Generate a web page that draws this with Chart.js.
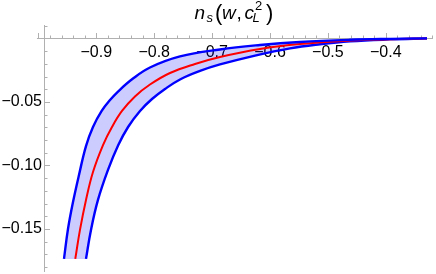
<!DOCTYPE html>
<html>
<head>
<meta charset="utf-8">
<script src="https://cdn.jsdelivr.net/npm/chart.js@4.4.1/dist/chart.umd.min.js"></script>
<style>
  html, body { margin: 0; padding: 0; background: #fff; }
  #wrap { width: 436px; height: 274px; }
</style>
</head>
<body>
<div id="wrap"><canvas id="plot" width="436" height="274"></canvas></div>
<script>
// values (w on x, n_s on y)
const upperW = [-0.9558, -0.9489, -0.9402, -0.9299, -0.9178, -0.9057, -0.8907, -0.8763, -0.8625, -0.8366, -0.8073, -0.7554, -0.6864, -0.6173, -0.5482, -0.4618, -0.3927, -0.3288];
const upperN = [-0.1735, -0.1500, -0.1287, -0.1075, -0.0847, -0.0697, -0.0571, -0.0485, -0.0418, -0.0316, -0.0229, -0.0142, -0.0087, -0.0052, -0.0028, -0.0011, -0.0004, 0];

const centerW = [-0.9363, -0.9282, -0.9178, -0.9057, -0.8884, -0.8729, -0.8556, -0.8332, -0.8073, -0.7727, -0.7295, -0.6864, -0.6173, -0.5482, -0.4618, -0.3927, -0.3288];
const centerN = [-0.1735, -0.1507, -0.1271, -0.1051, -0.0839, -0.0697, -0.0571, -0.0457, -0.0363, -0.0272, -0.0201, -0.0146, -0.0083, -0.0044, -0.0017, -0.0006, 0];

const lowerW = [-0.9178, -0.9092, -0.8971, -0.8798, -0.8620, -0.8451, -0.8245, -0.8038, -0.7813, -0.7554, -0.7209, -0.6864, -0.6259, -0.5655, -0.5137, -0.4618, -0.3927, -0.3288];
const lowerN = [-0.1735, -0.1507, -0.1271, -0.1035, -0.0839, -0.0697, -0.0571, -0.0477, -0.0398, -0.0323, -0.0256, -0.0205, -0.0135, -0.0078, -0.0046, -0.0023, -0.0008, 0];

const xTicks = [-0.9, -0.8, -0.7, -0.6, -0.5, -0.4];
const xTickLabels = ['\u22120.9', '\u22120.8', '\u22120.7', '\u22120.6', '\u22120.5', '\u22120.4'];
const yTicks = [-0.15, -0.10, -0.05];
const yTickLabels = ['\u22120.15', '\u22120.10', '\u22120.05'];

const axisGray = '#b0b0b0';

function pts(xs, ys) {
    return xs.map((v, i) => ({x: v, y: ys[i]}));
}

function noPadding(s) {
    s.paddingLeft = 0;
    s.paddingRight = 0;
    s.paddingTop = 0;
    s.paddingBottom = 0;
}

// Mathematica style axes: x axis through n_s = 0, small ticks pointing inwards
const axesPlugin = {
    id: 'axesPlugin',
    beforeDatasetsDraw(chart) {
        const {ctx, chartArea, scales: {x, y}} = chart;
        const y0 = Math.round(y.getPixelForValue(0)) + 0.5;
        const xl = chartArea.left;
        ctx.save();
        ctx.strokeStyle = axisGray;
        ctx.lineWidth = 1;
        ctx.beginPath();
        ctx.moveTo(x.getPixelForValue(-1.0025), y0);
        ctx.lineTo(chartArea.right, y0);
        ctx.moveTo(xl, chartArea.top);
        ctx.lineTo(xl, chartArea.bottom);
        // x ticks every 0.02, longer at 0.1
        for (let k = -50; k <= -16; k++) {
            const px = Math.round(x.getPixelForValue(k * 0.02)) + 0.5;
            const len = k % 5 === 0 ? 5.5 : 3;
            ctx.moveTo(px, y0);
            ctx.lineTo(px, y0 - len);
        }
        // y ticks every 0.01, longer at 0.05
        for (let k = 1; k >= -18; k--) {
            if (k === 0) continue;
            const py = Math.round(y.getPixelForValue(k * 0.01)) + 0.5;
            const len = k % 5 === 0 ? 5.5 : 3;
            ctx.moveTo(xl, py);
            ctx.lineTo(xl + len, py);
        }
        ctx.stroke();
        ctx.restore();
    }
};

// plot label n_s(w, c_L^2)
const titlePlugin = {
    id: 'titlePlugin',
    afterDraw(chart) {
        const ctx = chart.ctx;
        const fam = '"Liberation Sans", Arial, sans-serif';
        const parts = [
            ['n', 194.5, 19, 'italic 19px'],
            ['s', 206.5, 22, 'italic 13px'],
            ['(', 215, 20, '22px'],
            ['w', 222, 19, 'italic 19px'],
            [',', 236.5, 19, '19px'],
            ['c', 244.5, 19, 'italic 19px'],
            ['2', 255, 10, '13px'],
            ['L', 252.5, 22, 'italic 13px'],
            [')', 266, 20, '22px']
        ];
        ctx.save();
        ctx.fillStyle = '#000';
        ctx.textAlign = 'left';
        ctx.textBaseline = 'alphabetic';
        parts.forEach(([t, px, py, f]) => {
            ctx.font = f + ' ' + fam;
            ctx.fillText(t, px, py);
        });
        ctx.restore();
    }
};

Chart.defaults.font.family = '"Liberation Sans", Arial, sans-serif';

new Chart(document.getElementById('plot'), {
    type: 'line',
    data: {
        datasets: [
            {
                label: 'upper',
                data: pts(upperW, upperN),
                borderColor: '#0000ff',
                borderWidth: 2.4,
                fill: false
            },
            {
                label: 'center',
                data: pts(centerW, centerN),
                borderColor: '#ff0000',
                borderWidth: 2,
                fill: false
            },
            {
                label: 'lower',
                data: pts(lowerW, lowerN),
                borderColor: '#0000ff',
                backgroundColor: 'rgba(0, 0, 255, 0.2)',
                borderWidth: 2.4,
                fill: '-2'
            }
        ]
    },
    options: {
        responsive: false,
        animation: false,
        indexAxis: 'y',
        layout: { padding: { left: 0, right: 3, top: 25, bottom: 2 } },
        elements: {
            point: { radius: 0 },
            line: { tension: 0.4 }
        },
        plugins: {
            legend: { display: false },
            title: { display: false },
            tooltip: { enabled: false },
            filler: { drawTime: 'beforeDatasetsDraw' }
        },
        scales: {
            x: {
                type: 'linear',
                axis: 'x',
                min: -0.98946,
                max: -0.31848,
                bounds: 'data',
                position: { y: 0 },
                grid: { display: false, drawTicks: false },
                border: { display: false },
                afterFit: s => { s.height = 0; noPadding(s); },
                afterBuildTicks: s => { s.ticks = xTicks.map(v => ({value: v})); },
                ticks: {
                    padding: 5,
                    color: '#000',
                    font: { size: 16 },
                    maxRotation: 0,
                    autoSkip: false,
                    callback: (v, i) => xTickLabels[i]
                }
            },
            y: {
                type: 'linear',
                axis: 'y',
                min: -0.1838,
                max: 0.01054,
                bounds: 'data',
                position: 'left',
                grid: { display: false, drawTicks: false },
                border: { display: false },
                afterFit: s => { s.width = 44.5; noPadding(s); },
                afterBuildTicks: s => { s.ticks = yTicks.map(v => ({value: v})); },
                ticks: {
                    padding: 2.5,
                    color: '#000',
                    font: { size: 16 },
                    autoSkip: false,
                    callback: (v, i) => yTickLabels[i]
                }
            }
        }
    },
    plugins: [axesPlugin, titlePlugin]
});
</script>
</body>
</html>
